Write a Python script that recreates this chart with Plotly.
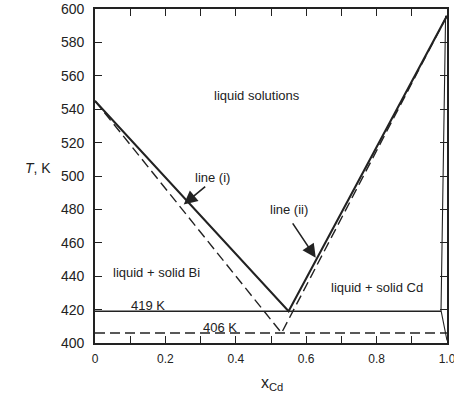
import plotly.graph_objects as go

# Data (mole fraction of Cd, temperature in K)
liq_x = [0.0, 0.55, 1.0]          # solid liquidus (lines i and ii)
liq_T = [545, 419, 596]
ideal_x = [0.0, 0.53, 1.0]        # dashed (ideal) liquidus
ideal_T = [545, 406, 596]
eut_x = [0.0, 0.983]              # 419 K eutectic line
eut_T = [419, 419]
ideal_eut_x = [0.0, 1.0]          # 406 K dashed line
ideal_eut_T = [406, 406]
edge_x = [0.996, 0.983, 1.0]      # drawn box edge at right
edge_T = [596, 419.5, 401.5]

x_ticks = [0, 0.2, 0.4, 0.6, 0.8, 1.0]
x_labels = ["0", "0.2", "0.4", "0.6", "0.8", "1.0"]

ink = "#222222"
W, H = 454, 401
L, R, T_, B = 95, 7, 9, 58

fig = go.Figure()
fig.add_trace(go.Scatter(x=ideal_x, y=ideal_T, mode="lines",
                         line=dict(color=ink, width=1.4, dash="10px,5px")))
fig.add_trace(go.Scatter(x=ideal_eut_x, y=ideal_eut_T, mode="lines",
                         line=dict(color=ink, width=1.4, dash="10px,5px")))
fig.add_trace(go.Scatter(x=eut_x, y=eut_T, mode="lines",
                         line=dict(color=ink, width=1.3)))
fig.add_trace(go.Scatter(x=edge_x, y=edge_T, mode="lines",
                         line=dict(color=ink, width=1.1)))
fig.add_trace(go.Scatter(x=liq_x, y=liq_T, mode="lines",
                         line=dict(color=ink, width=2.1)))

font = "Liberation Sans, Arial, sans-serif"
txt = dict(family=font, size=13, color=ink)
labels = [
    ("liquid solutions", 0.46, 548),
    ("line (i)", 0.335, 499),
    ("line (ii)", 0.551, 480),
    ("liquid + solid Bi", 0.176, 442),
    ("liquid + solid Cd", 0.801, 433),
    ("419 K", 0.151, 422.5),
    ("406 K", 0.355, 409.5),
]
for t, x, y in labels:
    fig.add_annotation(x=x, y=y, text=t, showarrow=False, font=txt,
                       xanchor="center", yanchor="middle")

# arrows
fig.add_annotation(x=0.252, y=483, text="", showarrow=True, arrowhead=2,
                   arrowsize=1.7, arrowwidth=1.6, arrowcolor=ink, ax=23, ay=-19)
fig.add_annotation(x=0.627, y=451, text="", showarrow=True, arrowhead=2,
                   arrowsize=1.7, arrowwidth=1.6, arrowcolor=ink, ax=-24, ay=-36)

# axis titles
fig.add_annotation(xref="paper", yref="paper", x=-0.2045, y=0.524,
                   text="<i>T</i>, K", showarrow=False,
                   font=dict(family=font, size=14, color=ink))
fig.add_annotation(xref="paper", yref="paper", x=0.503, y=-0.155,
                   text="x<sub>Cd</sub>", showarrow=False,
                   font=dict(family=font, size=16, color=ink))

fig.update_layout(
    width=W, height=H, margin=dict(l=L, r=R, t=T_, b=B, autoexpand=False),
    paper_bgcolor="white", plot_bgcolor="white", showlegend=False,
    xaxis=dict(range=[0, 1.0], tickvals=x_ticks, ticktext=x_labels,
               ticks="inside", ticklen=7, tickwidth=1.3, tickcolor=ink,
               minor=dict(dtick=0.1, ticks="inside", ticklen=7, tickwidth=1.3,
                          tickcolor=ink),
               showline=True, linecolor=ink, linewidth=1.8, mirror="ticks",
               showgrid=False, zeroline=False, ticklabelstandoff=4,
               automargin=False, ticklabeloverflow="allow",
               tickfont=dict(family=font, size=12, color=ink)),
    yaxis=dict(range=[400, 600], dtick=20, ticks="inside", ticklen=7,
               tickwidth=1.3, tickcolor=ink, showline=True, linecolor=ink,
               linewidth=1.8, mirror="ticks", showgrid=False, zeroline=False,
               ticklabelstandoff=6, automargin=False,
               ticklabeloverflow="allow",
               tickfont=dict(family=font, size=14, color=ink)),
)

fig.write_html("out.html", config={"displayModeBar": False},
               post_script="document.body.style.margin='0px';"
                           "document.body.style.overflow='hidden';")
